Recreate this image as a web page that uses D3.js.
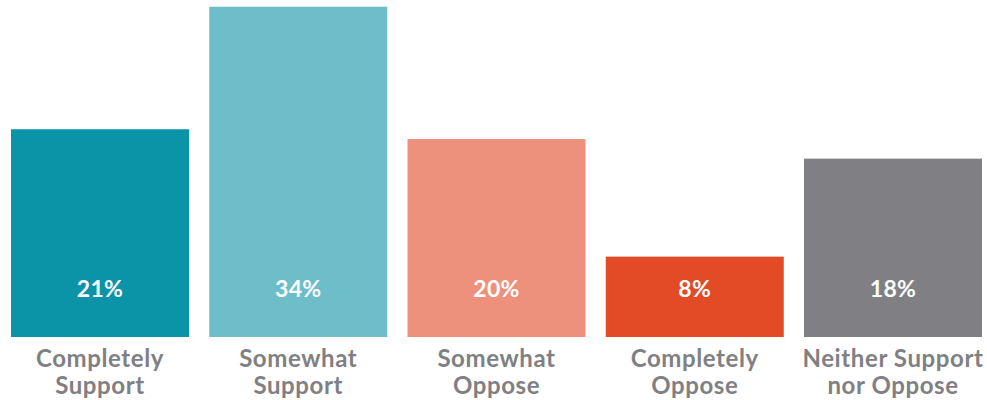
<!DOCTYPE html>
<html>
<head>
<meta charset="utf-8">
<script src="https://cdn.jsdelivr.net/npm/d3@7"></script>
<style>
  html, body { margin: 0; padding: 0; background: #ffffff; }
  svg { display: block; }
</style>
</head>
<body>
<svg id="chart" width="987" height="400"></svg>
<script>
const categories = [
  ["Completely", "Support"],
  ["Somewhat", "Support"],
  ["Somewhat", "Oppose"],
  ["Completely", "Oppose"],
  ["Neither Support", "nor Oppose"]
];
const values = [21.2, 33.7, 20.2, 8.2, 18.2];
const valueLabels = ["21%", "34%", "20%", "8%", "18%"];
const colors = ["#0b93a8", "#6dbec9", "#ed917c", "#e34a26", "#808084"];

const svg = d3.select("#chart");
const keys = d3.range(values.length);

const x = d3.scaleBand()
  .domain(keys)
  .range([11, 982])
  .paddingInner(0.102)
  .paddingOuter(0);

const y = d3.scaleLinear()
  .domain([0, 35])
  .range([337, 337 - 343]);

svg.append("g").selectAll("rect")
  .data(keys)
  .join("rect")
  .attr("x", i => x(i))
  .attr("y", i => y(values[i]))
  .attr("width", x.bandwidth())
  .attr("height", i => y(0) - y(values[i]))
  .attr("fill", i => colors[i]);

svg.append("g").selectAll("text")
  .data(keys)
  .join("text")
  .attr("x", i => x(i) + x.bandwidth() / 2)
  .attr("y", y(0) - 40)
  .attr("text-anchor", "middle")
  .attr("font-family", "Lato, 'Open Sans', sans-serif")
  .attr("font-weight", "bold")
  .attr("font-size", 23)
  .attr("letter-spacing", 0.3)
  .attr("fill", "#ffffff")
  .text(i => valueLabels[i]);

const catG = svg.append("g").selectAll("text")
  .data(keys)
  .join("text")
  .attr("x", i => x(i) + x.bandwidth() / 2)
  .attr("y", y(0) + 30)
  .attr("text-anchor", "middle")
  .attr("font-family", "Lato, 'Open Sans', sans-serif")
  .attr("font-weight", "bold")
  .attr("font-size", 24)
  .attr("letter-spacing", 0.6)
  .attr("fill", "#808084");

catG.selectAll("tspan")
  .data(i => categories[i].map((t, j) => ({ t, j, i })))
  .join("tspan")
  .attr("x", d => x(d.i) + x.bandwidth() / 2)
  .attr("dy", d => d.j === 0 ? 0 : 27)
  .text(d => d.t);
</script>
</body>
</html>
